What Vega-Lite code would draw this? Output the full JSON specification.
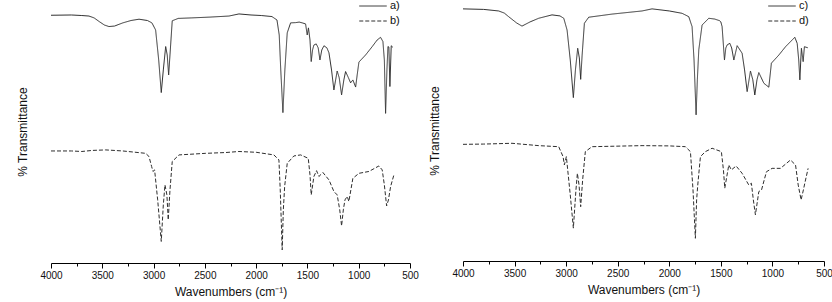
{
  "$schema": "https://vega.github.io/schema/vega-lite/v6.json",
  "padding": {"left": 16, "top": 0, "right": 5, "bottom": 2},
  "datasets": {
    "ir": [
      {"s":"a)","wn":4000,"T":94.2},{"s":"a)","wn":3800,"T":94.3},{"s":"a)","wn":3700,"T":94.1},{"s":"a)","wn":3630,"T":93.9},{"s":"a)","wn":3580,"T":93.2},{"s":"a)","wn":3530,"T":91.8},{"s":"a)","wn":3480,"T":90.5},{"s":"a)","wn":3435,"T":89.9},{"s":"a)","wn":3380,"T":90.1},{"s":"a)","wn":3300,"T":91.3},{"s":"a)","wn":3220,"T":92.2},{"s":"a)","wn":3142,"T":92.7},{"s":"a)","wn":3060,"T":92.2},{"s":"a)","wn":3016,"T":91.3},{"s":"a)","wn":2980,"T":88.6},{"s":"a)","wn":2950,"T":77.2},{"s":"a)","wn":2925,"T":64.8},{"s":"a)","wn":2905,"T":73.4},{"s":"a)","wn":2882,"T":82.3},{"s":"a)","wn":2867,"T":79.1},{"s":"a)","wn":2853,"T":71.5},{"s":"a)","wn":2840,"T":79.1},{"s":"a)","wn":2818,"T":92.1},{"s":"a)","wn":2760,"T":93.0},{"s":"a)","wn":2626,"T":93.2},{"s":"a)","wn":2450,"T":93.5},{"s":"a)","wn":2265,"T":93.9},{"s":"a)","wn":2168,"T":94.7},{"s":"a)","wn":2050,"T":94.3},{"s":"a)","wn":1950,"T":94.1},{"s":"a)","wn":1846,"T":93.7},{"s":"a)","wn":1797,"T":92.4},{"s":"a)","wn":1775,"T":86.7},{"s":"a)","wn":1760,"T":73.4},{"s":"a)","wn":1739,"T":57.2},{"s":"a)","wn":1720,"T":73.4},{"s":"a)","wn":1697,"T":87.5},{"s":"a)","wn":1664,"T":91.3},{"s":"a)","wn":1615,"T":91.4},{"s":"a)","wn":1580,"T":91.6},{"s":"a)","wn":1550,"T":91.3},{"s":"a)","wn":1518,"T":90.9},{"s":"a)","wn":1502,"T":86.7},{"s":"a)","wn":1490,"T":89.4},{"s":"a)","wn":1475,"T":84.8},{"s":"a)","wn":1463,"T":76.6},{"s":"a)","wn":1450,"T":81.0},{"s":"a)","wn":1437,"T":82.9},{"s":"a)","wn":1414,"T":83.3},{"s":"a)","wn":1395,"T":81.8},{"s":"a)","wn":1378,"T":77.2},{"s":"a)","wn":1360,"T":81.0},{"s":"a)","wn":1339,"T":82.6},{"s":"a)","wn":1310,"T":81.8},{"s":"a)","wn":1290,"T":79.9},{"s":"a)","wn":1265,"T":73.4},{"s":"a)","wn":1242,"T":65.8},{"s":"a)","wn":1225,"T":69.6},{"s":"a)","wn":1210,"T":73.0},{"s":"a)","wn":1190,"T":70.4},{"s":"a)","wn":1167,"T":63.9},{"s":"a)","wn":1145,"T":69.6},{"s":"a)","wn":1128,"T":72.8},{"s":"a)","wn":1100,"T":70.4},{"s":"a)","wn":1079,"T":68.5},{"s":"a)","wn":1057,"T":69.6},{"s":"a)","wn":1030,"T":66.9},{"s":"a)","wn":1015,"T":71.5},{"s":"a)","wn":998,"T":76.4},{"s":"a)","wn":933,"T":79.1},{"s":"a)","wn":868,"T":82.3},{"s":"a)","wn":820,"T":84.8},{"s":"a)","wn":787,"T":85.8},{"s":"a)","wn":764,"T":84.2},{"s":"a)","wn":750,"T":77.2},{"s":"a)","wn":738,"T":56.9},{"s":"a)","wn":725,"T":73.4},{"s":"a)","wn":715,"T":82.3},{"s":"a)","wn":706,"T":82.1},{"s":"a)","wn":696,"T":67.1},{"s":"a)","wn":683,"T":82.6},{"s":"a)","wn":667,"T":82.0},
      {"s":"b)","wn":4000,"T":42.6},{"s":"b)","wn":3800,"T":42.6},{"s":"b)","wn":3700,"T":42.4},{"s":"b)","wn":3600,"T":42.8},{"s":"b)","wn":3467,"T":43.0},{"s":"b)","wn":3300,"T":42.6},{"s":"b)","wn":3200,"T":42.2},{"s":"b)","wn":3077,"T":41.7},{"s":"b)","wn":3045,"T":40.5},{"s":"b)","wn":3019,"T":36.7},{"s":"b)","wn":3006,"T":34.8},{"s":"b)","wn":2990,"T":35.4},{"s":"b)","wn":2960,"T":24.0},{"s":"b)","wn":2925,"T":8.2},{"s":"b)","wn":2905,"T":22.1},{"s":"b)","wn":2889,"T":29.7},{"s":"b)","wn":2870,"T":25.9},{"s":"b)","wn":2857,"T":16.4},{"s":"b)","wn":2840,"T":27.8},{"s":"b)","wn":2818,"T":38.6},{"s":"b)","wn":2752,"T":41.1},{"s":"b)","wn":2492,"T":41.7},{"s":"b)","wn":2297,"T":42.0},{"s":"b)","wn":2168,"T":42.4},{"s":"b)","wn":2000,"T":42.1},{"s":"b)","wn":1827,"T":41.1},{"s":"b)","wn":1778,"T":39.2},{"s":"b)","wn":1765,"T":27.8},{"s":"b)","wn":1746,"T":5.0},{"s":"b)","wn":1735,"T":20.2},{"s":"b)","wn":1722,"T":29.1},{"s":"b)","wn":1697,"T":37.9},{"s":"b)","wn":1632,"T":40.7},{"s":"b)","wn":1566,"T":41.1},{"s":"b)","wn":1492,"T":39.8},{"s":"b)","wn":1475,"T":33.5},{"s":"b)","wn":1463,"T":25.9},{"s":"b)","wn":1437,"T":32.9},{"s":"b)","wn":1411,"T":35.1},{"s":"b)","wn":1388,"T":32.9},{"s":"b)","wn":1349,"T":34.4},{"s":"b)","wn":1290,"T":31.6},{"s":"b)","wn":1242,"T":27.2},{"s":"b)","wn":1210,"T":25.9},{"s":"b)","wn":1185,"T":20.2},{"s":"b)","wn":1167,"T":14.1},{"s":"b)","wn":1150,"T":20.2},{"s":"b)","wn":1134,"T":24.0},{"s":"b)","wn":1112,"T":25.3},{"s":"b)","wn":1096,"T":23.4},{"s":"b)","wn":1057,"T":32.2},{"s":"b)","wn":998,"T":34.1},{"s":"b)","wn":901,"T":34.8},{"s":"b)","wn":803,"T":36.9},{"s":"b)","wn":771,"T":35.4},{"s":"b)","wn":750,"T":29.7},{"s":"b)","wn":728,"T":21.7},{"s":"b)","wn":710,"T":24.0},{"s":"b)","wn":689,"T":29.1},{"s":"b)","wn":657,"T":33.5},
      {"s":"c)","wn":4000,"T":96.6},{"s":"c)","wn":3800,"T":96.4},{"s":"c)","wn":3654,"T":95.8},{"s":"c)","wn":3600,"T":95.0},{"s":"c)","wn":3557,"T":93.6},{"s":"c)","wn":3480,"T":91.2},{"s":"c)","wn":3428,"T":90.0},{"s":"c)","wn":3350,"T":91.6},{"s":"c)","wn":3266,"T":93.0},{"s":"c)","wn":3137,"T":94.3},{"s":"c)","wn":3060,"T":93.9},{"s":"c)","wn":3023,"T":93.0},{"s":"c)","wn":2991,"T":88.5},{"s":"c)","wn":2960,"T":77.0},{"s":"c)","wn":2930,"T":62.6},{"s":"c)","wn":2910,"T":73.2},{"s":"c)","wn":2888,"T":81.5},{"s":"c)","wn":2872,"T":77.8},{"s":"c)","wn":2859,"T":69.6},{"s":"c)","wn":2845,"T":78.9},{"s":"c)","wn":2823,"T":91.1},{"s":"c)","wn":2781,"T":93.4},{"s":"c)","wn":2555,"T":94.6},{"s":"c)","wn":2361,"T":95.4},{"s":"c)","wn":2264,"T":95.8},{"s":"c)","wn":2167,"T":96.6},{"s":"c)","wn":2000,"T":95.8},{"s":"c)","wn":1876,"T":94.9},{"s":"c)","wn":1811,"T":93.6},{"s":"c)","wn":1779,"T":89.8},{"s":"c)","wn":1760,"T":77.0},{"s":"c)","wn":1740,"T":56.0},{"s":"c)","wn":1728,"T":69.4},{"s":"c)","wn":1714,"T":80.9},{"s":"c)","wn":1682,"T":90.4},{"s":"c)","wn":1617,"T":93.0},{"s":"c)","wn":1560,"T":92.7},{"s":"c)","wn":1514,"T":92.1},{"s":"c)","wn":1500,"T":91.6},{"s":"c)","wn":1488,"T":89.8},{"s":"c)","wn":1465,"T":77.0},{"s":"c)","wn":1452,"T":81.6},{"s":"c)","wn":1439,"T":82.8},{"s":"c)","wn":1413,"T":83.4},{"s":"c)","wn":1395,"T":81.6},{"s":"c)","wn":1374,"T":77.0},{"s":"c)","wn":1342,"T":82.5},{"s":"c)","wn":1294,"T":79.6},{"s":"c)","wn":1270,"T":73.2},{"s":"c)","wn":1245,"T":64.9},{"s":"c)","wn":1213,"T":72.8},{"s":"c)","wn":1190,"T":69.4},{"s":"c)","wn":1171,"T":63.6},{"s":"c)","wn":1150,"T":69.4},{"s":"c)","wn":1132,"T":72.2},{"s":"c)","wn":1083,"T":68.1},{"s":"c)","wn":1061,"T":67.4},{"s":"c)","wn":1035,"T":66.6},{"s":"c)","wn":1010,"T":75.8},{"s":"c)","wn":938,"T":78.9},{"s":"c)","wn":873,"T":82.1},{"s":"c)","wn":783,"T":85.7},{"s":"c)","wn":760,"T":83.4},{"s":"c)","wn":745,"T":77.0},{"s":"c)","wn":734,"T":69.4},{"s":"c)","wn":725,"T":77.0},{"s":"c)","wn":719,"T":81.5},{"s":"c)","wn":702,"T":76.4},{"s":"c)","wn":690,"T":82.1},{"s":"c)","wn":657,"T":81.7},
      {"s":"d)","wn":4000,"T":44.7},{"s":"d)","wn":3800,"T":44.8},{"s":"d)","wn":3525,"T":45.1},{"s":"d)","wn":3266,"T":44.2},{"s":"d)","wn":3072,"T":43.8},{"s":"d)","wn":3030,"T":40.0},{"s":"d)","wn":3017,"T":36.8},{"s":"d)","wn":2998,"T":40.0},{"s":"d)","wn":2960,"T":25.3},{"s":"d)","wn":2930,"T":12.6},{"s":"d)","wn":2905,"T":27.2},{"s":"d)","wn":2891,"T":33.6},{"s":"d)","wn":2875,"T":29.1},{"s":"d)","wn":2859,"T":20.8},{"s":"d)","wn":2840,"T":31.1},{"s":"d)","wn":2814,"T":41.9},{"s":"d)","wn":2749,"T":43.8},{"s":"d)","wn":2264,"T":44.2},{"s":"d)","wn":2000,"T":44.1},{"s":"d)","wn":1844,"T":43.8},{"s":"d)","wn":1795,"T":41.9},{"s":"d)","wn":1770,"T":27.2},{"s":"d)","wn":1747,"T":8.7},{"s":"d)","wn":1735,"T":23.4},{"s":"d)","wn":1724,"T":29.1},{"s":"d)","wn":1698,"T":40.0},{"s":"d)","wn":1650,"T":41.9},{"s":"d)","wn":1585,"T":43.2},{"s":"d)","wn":1495,"T":41.9},{"s":"d)","wn":1475,"T":34.9},{"s":"d)","wn":1462,"T":27.9},{"s":"d)","wn":1423,"T":36.8},{"s":"d)","wn":1398,"T":34.9},{"s":"d)","wn":1352,"T":36.4},{"s":"d)","wn":1294,"T":33.6},{"s":"d)","wn":1229,"T":29.1},{"s":"d)","wn":1204,"T":29.8},{"s":"d)","wn":1185,"T":23.4},{"s":"d)","wn":1165,"T":17.7},{"s":"d)","wn":1132,"T":26.6},{"s":"d)","wn":1106,"T":27.2},{"s":"d)","wn":1058,"T":34.2},{"s":"d)","wn":1003,"T":35.5},{"s":"d)","wn":922,"T":35.5},{"s":"d)","wn":825,"T":38.7},{"s":"d)","wn":776,"T":36.8},{"s":"d)","wn":750,"T":29.1},{"s":"d)","wn":722,"T":23.4},{"s":"d)","wn":700,"T":27.2},{"s":"d)","wn":686,"T":29.8},{"s":"d)","wn":654,"T":35.5}
    ]
  },
  "data": {"name": "ir"},
  "spacing": 9,
  "hconcat": [
    {
      "width": 359,
      "height": 263,
      "transform": [{"filter": "datum.s == 'a)' || datum.s == 'b)'"}],
      "mark": {"type": "line", "strokeWidth": 1, "color": "#2e2e2e"},
      "encoding": {
        "x": {"field": "wn", "type": "quantitative", "scale": {"domain": [4000, 500], "nice": false},
          "axis": {"values": [4000,3750,3500,3250,3000,2750,2500,2250,2000,1750,1500,1250,1000,750,500],
            "labelExpr": "datum.value % 500 == 0 ? datum.label : ''", "format": "d",
            "tickSize": {"condition": {"test": "datum.value % 500 == 0", "value": 5}, "value": 3},
            "title": "Wavenumbers (cm⁻¹)"}},
        "y": {"field": "T", "type": "quantitative", "scale": {"domain": [0, 100], "nice": false, "zero": false},
          "axis": {"title": "% Transmittance"}},
        "strokeDash": {"field": "s", "type": "nominal", "scale": {"domain": ["a)", "b)"], "range": [[1, 0], [4, 2]]},
          "legend": {"title": null, "orient": "none", "legendX": 316, "legendY": 0}}
      }
    },
    {
      "width": 361,
      "height": 261,
      "transform": [{"filter": "datum.s == 'c)' || datum.s == 'd)'"}],
      "mark": {"type": "line", "strokeWidth": 1, "color": "#2e2e2e"},
      "encoding": {
        "x": {"field": "wn", "type": "quantitative", "scale": {"domain": [4000, 500], "nice": false},
          "axis": {"values": [4000,3750,3500,3250,3000,2750,2500,2250,2000,1750,1500,1250,1000,750,500],
            "labelExpr": "datum.value % 500 == 0 ? datum.label : ''", "format": "d",
            "tickSize": {"condition": {"test": "datum.value % 500 == 0", "value": 5}, "value": 3},
            "title": "Wavenumbers (cm⁻¹)"}},
        "y": {"field": "T", "type": "quantitative", "scale": {"domain": [0, 100], "nice": false, "zero": false},
          "axis": {"title": "% Transmittance"}},
        "strokeDash": {"field": "s", "type": "nominal", "scale": {"domain": ["c)", "d)"], "range": [[1, 0], [4, 2]]},
          "legend": {"title": null, "orient": "none", "legendX": 313, "legendY": 0}}
      }
    }
  ],
  "resolve": {"scale": {"strokeDash": "independent", "x": "independent", "y": "independent"}, "legend": {"strokeDash": "independent"}},
  "config": {
    "font": "Liberation Sans",
    "view": {"stroke": null},
    "axisX": {"grid": false, "labelOverlap": false, "labelFlush": false, "domainColor": "#000", "tickColor": "#000",
      "labelFontSize": 10, "labelColor": "#111", "titleFontSize": 12, "titleFontWeight": "normal", "titleColor": "#111",
      "labelPadding": 2, "titlePadding": 6},
    "axisY": {"grid": false, "labels": false, "ticks": false, "domain": false, "titleFontSize": 12,
      "titleFontWeight": "normal", "titleColor": "#111", "titlePadding": 22},
    "legend": {"symbolType": "M-2.5,0H2.5", "symbolSize": 121, "symbolStrokeWidth": 1, "symbolStrokeColor": "#2e2e2e",
      "labelFontSize": 11, "labelColor": "#111", "labelOffset": 11, "rowPadding": 4, "padding": 0}
  }
}
